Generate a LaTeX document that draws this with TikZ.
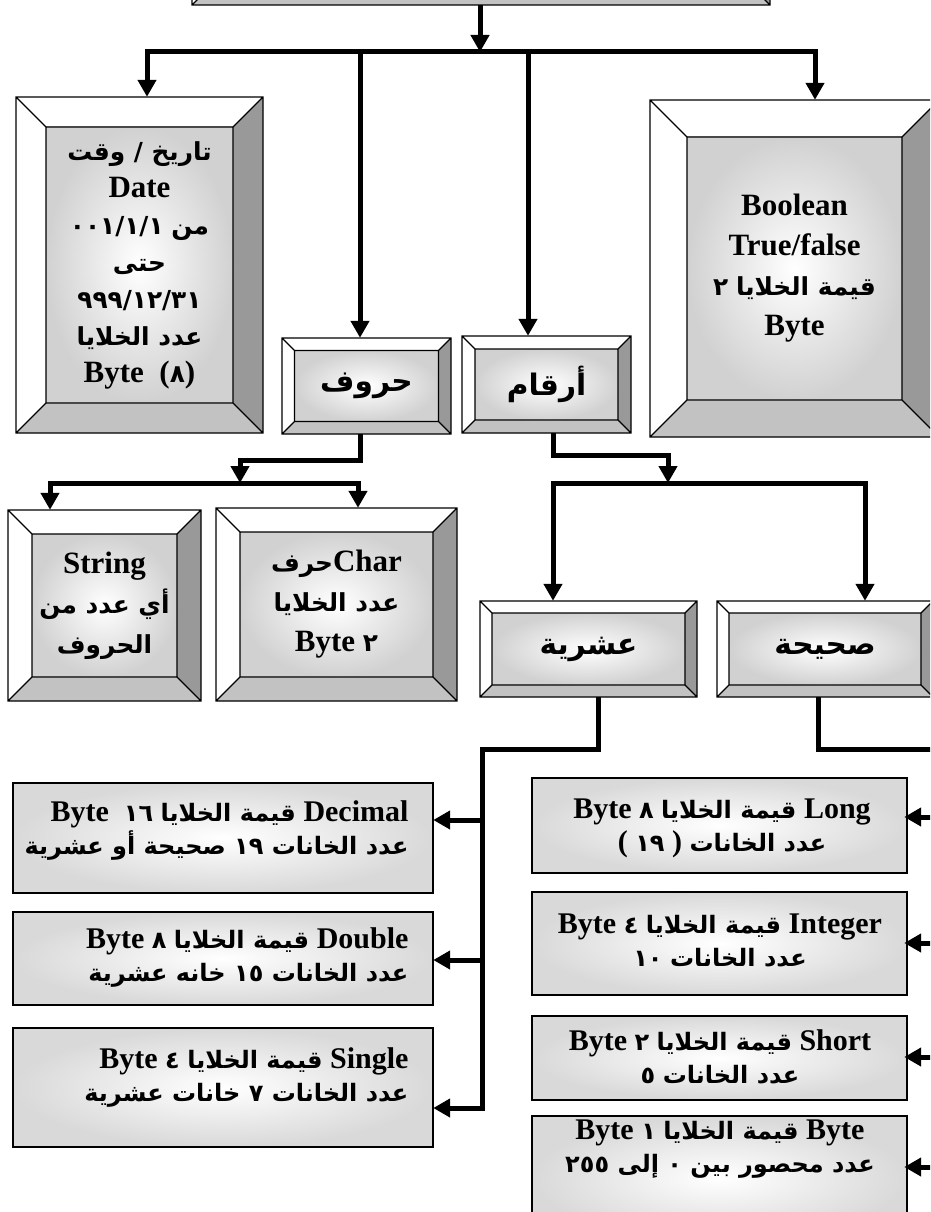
\documentclass[tikz,border=0pt]{standalone}
\usepackage{fontspec}
\setmainfont{Liberation Serif}
\newfontfamily\arfont[Script=Arabic,Scale=0.8]{DejaVu Sans}
\TeXXeTstate=1
\usetikzlibrary{arrows.meta,calc}

% Arabic words (right to left) and Arabic-Indic numbers
\newcommand\AR[1]{{\arfont\beginR #1\endR}}
\newcommand\AN[1]{{\arfont #1}}

\tikzset{
  conn/.style={line width=5pt, line join=miter},
  arr/.style={conn, -{Triangle[length=17pt,width=18pt]}},
  edge/.style={line width=1.2pt, draw=black},
  bevtop/.style={fill=white},
  bevleft/.style={fill=white},
  bevright/.style={fill=black!40},
  bevbottom/.style={fill=black!24},
  face/.style={inner color=white, outer color=black!18},
  flat/.style={inner color=white, outer color=black!15},
  datetxt/.style={font=\fontsize{31}{37}\selectfont\bfseries},
  bigtxt/.style={font=\fontsize{31}{40}\selectfont\bfseries},
  labeltxt/.style={font=\fontsize{37}{45}\selectfont\bfseries},
  listtxt/.style={font=\fontsize{30}{33}\selectfont\bfseries},
}

% bevelled button: name, x1, y1, x2, y2, bevel, text style, text
\newcommand\bevbox[8]{%
  \pgfmathsetmacro\bxA{#2+#6}\pgfmathsetmacro\byA{#3+#6}%
  \pgfmathsetmacro\bxB{#4-#6}\pgfmathsetmacro\byB{#5-#6}%
  \pgfmathsetmacro\bw{#4-#2}\pgfmathsetmacro\bh{#5-#3}%
  \fill[bevtop] (#2,#3) -- (#4,#3) -- (\bxB,\byA) -- (\bxA,\byA) -- cycle;
  \fill[bevleft] (#2,#3) -- (\bxA,\byA) -- (\bxA,\byB) -- (#2,#5) -- cycle;
  \fill[bevright] (#4,#3) -- (#4,#5) -- (\bxB,\byB) -- (\bxB,\byA) -- cycle;
  \fill[bevbottom] (#2,#5) -- (\bxA,\byB) -- (\bxB,\byB) -- (#4,#5) -- cycle;
  \shade[face] (\bxA,\byA) rectangle (\bxB,\byB);
  \draw[edge] (#2,#3) rectangle (#4,#5) (\bxA,\byA) rectangle (\bxB,\byB)
    (#2,#3) -- (\bxA,\byA) (#4,#3) -- (\bxB,\byA)
    (#2,#5) -- (\bxA,\byB) (#4,#5) -- (\bxB,\byB);
  \node[inner sep=0pt, minimum width=\bw pt, minimum height=\bh pt,
        align=center, #7] (#1) at ({(#2+#4)/2},{(#3+#5)/2}) {#8};
}

% flat shaded box: name, x1, y1, x2, y2
\newcommand\flatbox[5]{%
  \pgfmathsetmacro\bw{#4-#2}\pgfmathsetmacro\bh{#5-#3}%
  \shade[flat] (#2,#3) rectangle (#4,#5);
  \draw[edge] (#2,#3) rectangle (#4,#5);
  \node[inner sep=0pt, minimum width=\bw pt, minimum height=\bh pt]
    (#1) at ({(#2+#4)/2},{(#3+#5)/2}) {};
}

\begin{document}
\begin{tikzpicture}[x=1pt,y=-1pt]
\useasboundingbox (0,0) rectangle (930,1212);
\clip (0,0) rectangle (930,1212);
\fill[white] (0,0) rectangle (930,1212);

% ---- boxes ----
\bevbox{top}{192}{-120}{770}{5}{30}{bigtxt}{}
\bevbox{date}{16}{97}{263}{433}{30}{datetxt}{%
  \AR{تاريخ / وقت}\\ Date\\ \AN{٠٠١/١/١} \AR{من}\\ \AR{حتى}\\
  \AN{٩٩٩/١٢/٣١}\\ \AR{عدد الخلايا}\\ Byte~~(\AN{٨})}
\bevbox{bool}{650}{100}{939}{437}{37}{bigtxt}{%
  Boolean\\ True/false\\ \AN{٢} \AR{قيمة الخلايا}\\ Byte}
\bevbox{horoof}{282}{338}{451}{434}{12.5}{labeltxt}{\AR{حروف}}
\bevbox{arqam}{462}{336}{631}{433}{13}{labeltxt}{\AR{أرقام}}
\bevbox{string}{8}{510}{201}{701}{24}{bigtxt}{%
  String\\ \AR{أي عدد من}\\ \AR{الحروف}}
\bevbox{char}{216}{508}{457}{701}{24}{bigtxt}{%
  \AR{حرف}Char\\ \AR{عدد الخلايا}\\ Byte \AN{٢}}
\bevbox{asha}{480}{601}{697}{697}{12}{labeltxt}{\AR{عشرية}}
\bevbox{sah}{717}{601}{933}{697}{12}{labeltxt}{\AR{صحيحة}}

\flatbox{decimal}{13}{783}{433}{893}
\flatbox{double}{13}{912}{433}{1005}
\flatbox{single}{13}{1028}{433}{1147}
\flatbox{long}{532}{778}{907}{873}
\flatbox{integer}{532}{892}{907}{995}
\flatbox{short}{532}{1016}{907}{1100}
\flatbox{byte}{532}{1116}{907}{1240}

% ---- list texts ----
\node[listtxt, align=right, anchor=east] (decimalT) at (412,831)
  {Byte~~\AN{١٦} \AR{قيمة الخلايا} Decimal\\ \AR{عدد الخانات ١٩ صحيحة أو عشرية}};
\node[listtxt, align=right, anchor=east] (doubleT) at (412,958)
  {Byte \AN{٨} \AR{قيمة الخلايا} Double\\ \AR{عدد الخانات ١٥ خانه عشرية}};
\node[listtxt, align=right, anchor=east] (singleT) at (412,1078)
  {Byte \AN{٤} \AR{قيمة الخلايا} Single\\ \AR{عدد الخانات ٧ خانات عشرية}};
\node[listtxt, align=center] (longT) at (722,828)
  {Byte \AN{٨} \AR{قيمة الخلايا} Long\\ (~\AN{١٩}~) \AR{عدد الخانات}};
\node[listtxt, align=center] (integerT) at (720,940)
  {Byte \AN{٤} \AR{قيمة الخلايا} Integer\\ \AN{١٠} \AR{عدد الخانات}};
\node[listtxt, align=center] (shortT) at (720,1057)
  {Byte \AN{٢} \AR{قيمة الخلايا} Short\\ \AN{٥} \AR{عدد الخانات}};
\node[listtxt, align=center] (byteT) at (720,1149)
  {Byte \AN{١} \AR{قيمة الخلايا} Byte\\ \AR{عدد محصور بين ٠ إلى ٢٥٥}};

% ---- connectors ----
\coordinate (t0) at (480,52);
\coordinate (bL) at (147,52);
\coordinate (bR) at (815,52);
\coordinate (h0) at (360,52);
\coordinate (q0) at (528,52);
\draw[arr] (t0 |- top.south) -- (t0);
\draw[arr] (bR) -- (bL) -- (bL |- date.north);
\draw[arr] (bL) -- (bR) -- (bR |- bool.north);
\draw[arr] (h0) -- (h0 |- horoof.north);
\draw[arr] (q0) -- (q0 |- arqam.north);

% letters branch
\coordinate (h1) at (360,460);
\coordinate (h2) at (240,460);
\coordinate (h3) at (240,483);
\coordinate (sL) at (50,483);
\coordinate (sR) at (358,483);
\draw[arr] (h1 |- horoof.south) -- (h1) -- (h2) -- (h3);
\draw[arr] (sR) -- (sL) -- (sL |- string.north);
\draw[arr] (sL) -- (sR) -- (sR |- char.north);

% numbers branch
\coordinate (n1) at (553,455);
\coordinate (n2) at (668,455);
\coordinate (n3) at (668,483);
\coordinate (nL) at (553,483);
\coordinate (nR) at (865,483);
\draw[arr] (n1 |- arqam.south) -- (n1) -- (n2) -- (n3);
\draw[arr] (nR) -- (nL) -- (nL |- asha.north);
\draw[arr] (nL) -- (nR) -- (nR |- sah.north);

% decimal types
\coordinate (a1) at (598,749);
\coordinate (aL) at (482,749);
\coordinate (d1) at (482,820);
\coordinate (d2) at (482,960);
\coordinate (d3) at (482,1108);
\draw[arr] (a1 |- asha.south) -- (a1) -- (aL) -- (d3) -- (d3 -| single.east);
\draw[arr] (d1) -- (d1 -| decimal.east);
\draw[arr] (d2) -- (d2 -| double.east);

% whole-number types
\coordinate (c1) at (818,749);
\coordinate (cR) at (943,749);
\coordinate (r1) at (943,817);
\coordinate (r2) at (943,943);
\coordinate (r3) at (943,1057);
\coordinate (r4) at (943,1167);
\draw[arr] (c1 |- sah.south) -- (c1) -- (cR) -- (r4) -- ([xshift=-3pt]r4 -| byte.east);
\draw[arr] (r1) -- ([xshift=-3pt]r1 -| long.east);
\draw[arr] (r2) -- ([xshift=-3pt]r2 -| integer.east);
\draw[arr] (r3) -- ([xshift=-3pt]r3 -| short.east);
\end{tikzpicture}
\end{document}
